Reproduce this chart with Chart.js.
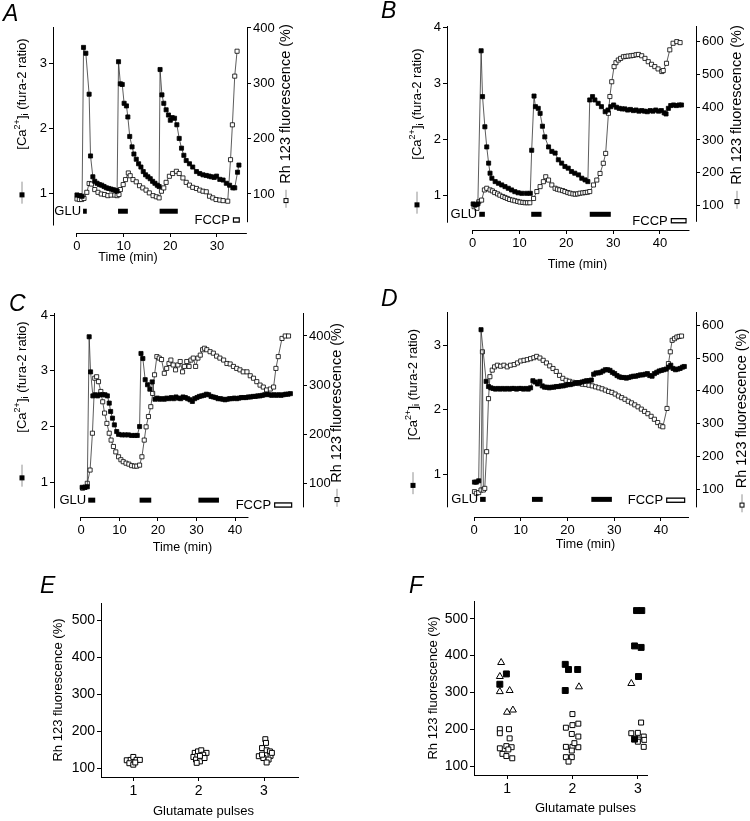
<!DOCTYPE html>
<html>
<head>
<meta charset="utf-8">
<script src="https://cdn.jsdelivr.net/npm/chart.js@4.4.1/dist/chart.umd.min.js"></script>
<style>
  body { margin: 0; background: #fff; }
  #fig { position: relative; width: 750px; height: 821px; overflow: hidden; font-family: "Liberation Sans", Arial, sans-serif; }
  canvas { position: absolute; }
  .letter { position: absolute; font-style: italic; font-size: 23px; line-height: 23px; color: #000; }
</style>
</head>
<body>
<div id="fig">
  <canvas id="cA" width="375" height="270" style="left:0;top:0"></canvas>
  <canvas id="cB" width="375" height="270" style="left:375px;top:0"></canvas>
  <canvas id="cC" width="375" height="280" style="left:0;top:280px"></canvas>
  <canvas id="cD" width="375" height="280" style="left:375px;top:280px"></canvas>
  <canvas id="cE" width="375" height="261" style="left:0;top:560px"></canvas>
  <canvas id="cF" width="375" height="261" style="left:375px;top:560px"></canvas>
  <div class="letter" style="left:3px;top:2px">A</div>
  <div class="letter" style="left:381px;top:-1px">B</div>
  <div class="letter" style="left:9px;top:292px">C</div>
  <div class="letter" style="left:381px;top:287px">D</div>
  <div class="letter" style="left:40px;top:574px">E</div>
  <div class="letter" style="left:409px;top:574px">F</div>
</div>
<script>
// ---- data: [time (min), value] ----
// panel A
const aCa = [[0,0.97],[0.6,0.96],[1.1,0.95],[1.4,3.24],[1.9,3.15],[2.6,2.52],[2.9,1.57],[3.4,1.25],[3.8,1.18],[4.3,1.15],[4.8,1.13],[5.3,1.12],[5.8,1.1],[6.3,1.08],[6.8,1.07],[7.3,1.06],[7.8,1.05],[8.3,1.04],[8.6,1.03],[8.9,3.02],[9.3,2.68],[9.7,2.67],[10.1,2.38],[10.6,2.34],[10.9,2.17],[11.3,1.87],[11.8,1.71],[12.2,1.6],[12.7,1.52],[13.2,1.45],[13.7,1.4],[14.2,1.33],[14.7,1.28],[15.2,1.25],[15.7,1.22],[16.2,1.18],[16.7,1.15],[17.2,1.12],[17.6,1.1],[17.8,2.9],[18.2,2.51],[18.6,2.38],[19.1,2.28],[19.6,2.2],[20.0,2.12],[20.4,2.16],[20.9,2.15],[21.4,2.05],[21.9,1.84],[22.4,1.69],[22.9,1.58],[23.4,1.5],[24.1,1.45],[24.8,1.4],[25.6,1.33],[26.3,1.3],[27.0,1.28],[27.7,1.27],[28.3,1.26],[28.8,1.25],[29.4,1.24],[29.9,1.26],[30.6,1.21],[31.3,1.2],[32.0,1.15],[32.7,1.12],[33.4,1.08],[33.8,1.08],[34.4,1.32],[34.7,1.43]];
const aRh = [[0,91],[0.5,90],[1.0,90],[1.5,92],[2.1,103],[2.6,119],[3.1,118],[3.8,108],[4.5,103],[5.2,100],[5.9,99],[6.6,97],[7.3,98],[8.1,98],[8.6,97],[9.0,99],[9.3,108],[9.9,117],[10.4,126],[11.0,138],[11.4,133],[12.0,126],[12.7,122],[13.4,115],[14.1,111],[14.8,107],[15.5,102],[16.3,97],[17.0,95],[17.6,93],[18.1,105],[18.6,111],[19.1,121],[19.8,132],[20.5,137],[21.3,141],[21.9,137],[22.7,129],[23.4,121],[24.1,116],[24.8,112],[25.6,110],[26.3,107],[27.0,105],[27.7,104],[28.4,96],[29.1,93],[29.8,90],[30.6,89],[31.3,88],[32.3,87],[32.9,162],[33.3,225],[33.8,313],[34.3,358]];
const aGlu = [[1.3,2.1],[8.8,10.9],[17.7,21.6]];
const aGluY = 0.72;
const aFccp = [33.4,34.9];
const aFccpY = 0.585;
const aCaTicks = [1,2,3];
const aRhTicks = [100,200,300,400];
const aTimeTicks = [0,10,20,30];

// panel B
const bCa = [[0.1,0.84],[0.5,0.82],[1.1,0.84],[1.8,3.58],[2.1,2.76],[2.6,2.22],[3.0,1.86],[3.4,1.57],[3.7,1.39],[4.1,1.3],[4.8,1.24],[5.5,1.21],[6.2,1.18],[6.9,1.15],[7.6,1.12],[8.3,1.09],[9.0,1.06],[9.7,1.04],[10.5,1.03],[11.5,1.03],[12.3,1.03],[12.6,1.8],[13.1,2.77],[13.4,2.58],[14.0,2.55],[14.4,2.46],[14.9,2.23],[15.4,2.04],[16.2,1.86],[16.9,1.78],[17.6,1.75],[18.3,1.63],[19.0,1.57],[19.7,1.51],[20.4,1.48],[21.1,1.42],[21.8,1.39],[22.6,1.36],[23.3,1.3],[24.0,1.27],[24.6,1.24],[25.0,2.7],[25.6,2.76],[26.1,2.7],[26.8,2.64],[27.5,2.58],[28.3,2.49],[28.9,2.52],[29.5,2.58],[30.1,2.61],[30.7,2.57],[31.3,2.55],[31.9,2.54],[32.5,2.54],[33.1,2.52],[33.7,2.53],[34.3,2.51],[34.9,2.52],[35.5,2.5],[36.1,2.51],[36.7,2.5],[37.3,2.49],[37.9,2.51],[38.5,2.5],[39.1,2.52],[39.7,2.5],[40.3,2.51],[40.9,2.47],[41.3,2.45],[41.8,2.55],[42.3,2.6],[42.9,2.61],[43.5,2.6],[44.1,2.61],[44.6,2.61]];
const bRh = [[0.3,97],[0.9,92],[1.3,112],[1.9,117],[2.5,148],[3.0,153],[3.7,148],[4.2,145],[4.7,140],[5.3,136],[5.8,132],[6.4,128],[6.9,125],[7.4,122],[7.9,119],[8.5,117],[9.0,115],[9.6,113],[10.1,111],[10.7,110],[11.2,109],[11.7,109],[12.2,109],[13.0,122],[13.7,143],[14.4,158],[15.1,173],[15.6,188],[16.2,178],[16.9,163],[17.6,153],[18.1,150],[18.6,148],[19.2,146],[19.7,143],[20.3,140],[20.8,138],[21.4,136],[21.9,135],[22.4,136],[22.9,138],[23.5,139],[24.0,140],[24.5,141],[25.0,143],[25.8,163],[26.5,178],[27.2,198],[27.9,229],[28.4,259],[29.0,381],[29.3,432],[29.7,477],[30.2,523],[30.6,535],[31.1,543],[31.6,548],[32.2,553],[32.7,554],[33.2,555],[33.8,556],[34.3,557],[34.9,559],[35.4,560],[36.1,556],[36.8,548],[37.5,538],[38.2,530],[38.9,523],[39.6,516],[40.4,508],[40.7,511],[41.4,533],[42.1,574],[42.8,594],[43.6,599],[44.3,596]];
const bGlu = [[1.4,2.6],[12.5,14.7],[25.0,29.5]];
const bGluY = 0.655;
const bFccp = [42.3,45.7];
const bFccpY = 0.54;
const bCaTicks = [1,2,3,4];
const bRhTicks = [100,200,300,400,500,600];
const bTimeTicks = [0,10,20,30,40];

// panel C
const cCa = [[0.1,0.91],[0.7,0.91],[1.2,0.92],[1.6,3.61],[1.9,2.98],[2.4,2.55],[2.9,2.57],[3.4,2.55],[3.9,2.57],[4.5,2.57],[5.0,2.57],[5.5,2.55],[5.9,2.42],[6.2,2.27],[6.6,2.15],[7.0,2.03],[7.5,1.91],[7.9,1.86],[8.6,1.85],[9.3,1.85],[10.0,1.85],[10.7,1.84],[11.4,1.84],[11.9,1.84],[12.4,2.0],[12.7,3.31],[13.1,3.22],[13.6,2.84],[14.1,2.75],[14.6,2.67],[15.1,2.8],[15.7,2.49],[16.2,2.51],[16.7,2.49],[17.2,2.5],[17.7,2.49],[18.2,2.51],[18.7,2.5],[19.2,2.52],[19.7,2.5],[20.2,2.53],[20.7,2.51],[21.2,2.5],[21.7,2.53],[22.2,2.52],[22.7,2.5],[23.2,2.48],[23.7,2.45],[24.2,2.5],[24.7,2.52],[25.2,2.54],[25.7,2.55],[26.2,2.56],[26.7,2.58],[27.2,2.57],[27.7,2.54],[28.2,2.53],[28.7,2.52],[29.2,2.5],[29.7,2.5],[30.2,2.49],[30.7,2.48],[31.2,2.49],[31.7,2.5],[32.2,2.5],[32.7,2.51],[33.2,2.5],[33.7,2.51],[34.2,2.52],[34.7,2.52],[35.2,2.52],[35.7,2.53],[36.2,2.53],[36.7,2.54],[37.2,2.54],[37.7,2.55],[38.2,2.55],[38.7,2.56],[39.2,2.57],[39.7,2.58],[40.2,2.57],[40.7,2.56],[41.2,2.57],[41.7,2.56],[42.2,2.57],[42.7,2.56],[43.2,2.57],[43.7,2.58],[44.2,2.58],[44.7,2.59]];
const cRh = [[0.2,90],[0.7,92],[1.2,100],[1.8,127],[2.3,202],[2.8,314],[3.2,317],[3.6,307],[4.1,287],[4.5,266],[4.9,243],[5.4,222],[5.9,202],[6.3,188],[6.8,175],[7.3,164],[7.9,154],[8.4,148],[8.9,144],[9.5,141],[10.1,139],[10.7,136],[11.3,135],[11.8,135],[12.4,137],[12.9,154],[13.4,188],[13.8,215],[14.3,236],[14.8,256],[15.2,283],[15.6,321],[16.1,358],[16.6,355],[17.1,352],[17.7,324],[18.2,334],[18.7,344],[19.1,351],[19.6,341],[20.1,331],[20.6,341],[21.1,348],[21.6,327],[22.0,338],[22.5,348],[23.0,338],[23.4,351],[23.9,355],[24.4,338],[24.9,355],[25.4,361],[25.9,372],[26.3,375],[26.8,372],[27.5,368],[28.2,365],[28.9,359],[29.6,355],[30.4,351],[31.1,344],[31.8,343],[32.5,338],[33.2,334],[33.9,331],[34.6,327],[35.4,327],[36.1,319],[36.8,314],[37.5,307],[38.2,300],[38.9,296],[39.6,290],[40.4,292],[41.1,296],[41.6,334],[42.1,358],[42.9,395],[43.6,400],[44.3,400]];
const cGlu = [[1.4,2.9],[12.4,14.9],[25.0,29.4]];
const cGluY = 0.68;
const cFccp = [41.2,45.1];
const cFccpY = 0.593;
const cCaTicks = [1,2,3,4];
const cRhTicks = [100,200,300,400];
const cTimeTicks = [0,10,20,30,40];

// panel D
const dCa = [[0.1,0.88],[0.5,0.88],[1.0,0.9],[1.5,3.24],[2.6,2.44],[3.1,2.36],[3.6,2.34],[4.1,2.33],[4.6,2.32],[5.1,2.33],[5.6,2.32],[6.1,2.33],[6.6,2.32],[7.1,2.33],[7.6,2.32],[8.1,2.33],[8.6,2.33],[9.1,2.32],[9.6,2.33],[10.1,2.33],[10.6,2.32],[11.1,2.33],[11.6,2.32],[12.1,2.34],[12.6,2.45],[13.1,2.43],[13.6,2.4],[14.1,2.44],[14.6,2.37],[15.1,2.35],[15.6,2.35],[16.1,2.34],[16.6,2.35],[17.1,2.35],[17.6,2.36],[18.1,2.36],[18.6,2.37],[19.1,2.37],[19.6,2.38],[20.1,2.39],[20.6,2.39],[21.1,2.4],[21.6,2.41],[22.1,2.42],[22.6,2.42],[23.1,2.43],[23.6,2.44],[24.1,2.45],[24.6,2.45],[25.1,2.46],[25.6,2.55],[26.1,2.57],[26.6,2.57],[27.1,2.58],[27.6,2.6],[28.1,2.62],[28.6,2.62],[29.1,2.61],[29.6,2.58],[30.1,2.56],[30.6,2.53],[31.1,2.51],[31.6,2.5],[32.1,2.5],[32.6,2.49],[33.1,2.5],[33.6,2.51],[34.1,2.52],[34.6,2.52],[35.1,2.53],[35.6,2.54],[36.1,2.54],[36.6,2.55],[37.1,2.56],[37.6,2.53],[38.1,2.52],[38.6,2.56],[39.1,2.58],[39.6,2.6],[40.1,2.61],[40.6,2.62],[41.1,2.63],[41.6,2.66],[42.1,2.69],[42.6,2.64],[43.1,2.62],[43.6,2.63],[44.1,2.64],[44.6,2.66],[45.0,2.67]];
const dRh = [[0.1,92],[0.5,87],[1.0,89],[1.5,97],[1.8,519],[2.0,97],[2.3,102],[2.7,214],[3.1,376],[3.4,443],[3.9,463],[4.4,473],[5.0,478],[5.7,475],[6.4,478],[7.1,473],[7.8,478],[8.6,480],[9.3,485],[10.0,491],[10.7,493],[11.4,495],[12.1,498],[12.8,501],[13.4,505],[14.1,500],[14.8,493],[15.5,485],[16.2,476],[16.9,468],[17.6,459],[18.3,447],[19.0,438],[19.7,432],[20.4,429],[21.1,426],[21.8,424],[22.5,422],[23.2,420],[23.9,419],[24.6,417],[25.3,415],[26.0,412],[26.7,409],[27.4,406],[28.1,402],[28.8,398],[29.5,395],[30.2,390],[30.9,384],[31.6,379],[32.3,374],[33.0,368],[33.7,363],[34.4,357],[35.1,351],[35.8,344],[36.5,337],[37.2,330],[37.9,322],[38.6,313],[39.3,303],[39.9,293],[40.4,290],[41.3,346],[41.6,483],[42.0,519],[42.4,554],[42.9,559],[43.4,564],[43.9,566],[44.4,567]];
const dGlu = [[1.3,2.5],[12.4,14.7],[25.1,29.5]];
const dGluY = 0.613;
const dFccp = [41.1,45.2];
const dFccpY = 0.6;
const dCaTicks = [1,2,3];
const dRhTicks = [100,200,300,400,500,600];
const dTimeTicks = [0,10,20,30,40];

// panel E: [pulse, Rh 123 %]
const eOpen = [[0.9,121],[0.96,122],[1.0,130],[1.05,122],[1.1,122],[0.94,113],[1.0,109],[1.03,115],
  [1.94,141],[1.99,145],[2.04,148],[2.12,141],[1.92,130],[1.98,132],[2.07,136],[1.96,123],[2.02,118],[1.97,114],[2.09,127],[2.02,133],
  [3.02,178],[3.03,168],[2.97,154],[3.04,148],[3.09,145],[2.92,132],[2.99,127],[3.1,133],[3.07,123],[3.04,115],[2.97,136],[3.12,141]];

// panel F
const fOpen = [[0.89,200],[0.89,189],[1.03,200],[1.04,175],[0.89,148],[0.99,154],[1.07,151],[1.02,145],[0.93,133],[0.99,127],[1.08,121],
  [2.0,241],[1.9,204],[2.0,211],[2.09,215],[1.99,187],[2.09,180],[1.9,152],[2.0,152],[2.09,151],[1.99,142],[2.03,162],[1.9,124],[1.99,124],[1.94,112],
  [3.05,218],[2.9,189],[3.0,190],[3.09,180],[3.01,172],[3.1,171],[3.0,166],[3.09,152]];
const fFilled = [[0.99,350],[0.89,322],[1.89,376],[1.94,362],[2.08,362],[1.89,305],[2.98,522],[3.06,522],[2.95,426],[3.05,422],[3.01,343],[2.95,173]];
const fTri = [[0.91,381],[0.89,343],[0.89,302],[1.04,305],[1.0,246],[1.09,252],[2.1,315],[2.9,324]];
const pulseTicks = [1,2,3];
const pctTicks = [100,200,300,400,500];

const caTitle = [{ t: '[Ca' }, { t: '2+', sup: true }, { t: ']' }, { t: 'i', sub: true }, { t: ' (fura-2 ratio)' }];
const rhTitle = [{ t: 'Rh 123 fluorescence (%)' }];

// ---- drawing ----
const FAM = '"Liberation Sans", Arial, sans-serif';
Chart.defaults.font.family = FAM;
Chart.defaults.color = '#000';

function vTitle(ctx, cx, cy, t) {
  const fonts = t.parts.map(p => ((p.sup || p.sub) ? t.size * 0.7 : t.size) + 'px ' + FAM);
  const widths = t.parts.map((p, i) => { ctx.font = fonts[i]; return ctx.measureText(p.t).width; });
  const textW = widths.reduce((s, w) => s + w, 0);
  const m = t.marker;
  const total = textW + (m ? m.len + t.gap : 0);
  ctx.save();
  ctx.translate(cx, cy);
  ctx.rotate(-Math.PI / 2);
  let x = -total / 2;
  if (m) {
    ctx.strokeStyle = '#777';
    ctx.lineWidth = 0.8;
    ctx.beginPath(); ctx.moveTo(x, 0); ctx.lineTo(x + m.len, 0); ctx.stroke();
    const c = x + m.len * 0.4;
    ctx.strokeStyle = '#000';
    ctx.fillStyle = m.filled ? '#000' : '#fff';
    ctx.fillRect(c - 2, -2, 4, 4);
    ctx.lineWidth = 1;
    ctx.strokeRect(c - 2, -2, 4, 4);
    x += m.len + t.gap;
  }
  ctx.fillStyle = '#000';
  ctx.textBaseline = 'middle';
  ctx.textAlign = 'left';
  t.parts.forEach((p, i) => {
    ctx.font = fonts[i];
    const dy = p.sup ? -t.size * 0.35 : (p.sub ? t.size * 0.3 : 0);
    ctx.fillText(p.t, x, dy);
    x += widths[i];
  });
  ctx.restore();
}

// extra axis lines, titles and GLU / FCCP labels
const extras = {
  id: 'extras',
  beforeDatasetsDraw(chart, args, o) {
    const ax = o.axes;
    if (!ax) return;
    const ctx = chart.ctx, a = chart.chartArea, s = chart.scales;
    const xl = Math.round(a.left) + 0.5, xr = Math.round(a.right) + 0.5, yb = Math.round(a.bottom) + 0.5;
    ctx.save();
    ctx.strokeStyle = '#000';
    ctx.lineWidth = 1;
    ctx.beginPath();
    ctx.moveTo(xl, s.yL.getPixelForValue(ax.yL)); ctx.lineTo(xl, a.top);
    ctx.moveTo(xr, s.yR.getPixelForValue(ax.yR)); ctx.lineTo(xr, a.top);
    ctx.moveTo(s.xa.getPixelForValue(ax.x0), yb); ctx.lineTo(s.xa.getPixelForValue(ax.x1), yb);
    ctx.stroke();
    ctx.restore();
  },
  afterDatasetsDraw(chart, args, o) {
    if (o.hollow == null) return;
    // make the FCCP bar an open box
    const p = chart.getDatasetMeta(o.hollow).data;
    const ctx = chart.ctx;
    ctx.save();
    ctx.fillStyle = '#fff';
    ctx.fillRect(p[0].x + 1.2, p[0].y - 1.4, p[1].x - p[0].x - 2.4, 2.8);
    ctx.restore();
  },
  afterDraw(chart, args, o) {
    const ctx = chart.ctx, a = chart.chartArea, s = chart.scales;
    const midY = (a.top + a.bottom) / 2;
    if (o.left) vTitle(ctx, a.left - o.left.off, midY + (o.left.dy || 0), o.left);
    if (o.right) vTitle(ctx, a.right + o.right.off, midY + (o.right.dy || 0), o.right);
    ctx.save();
    ctx.fillStyle = '#000';
    if (o.xTitle) {
      ctx.font = o.xTitle.size + 'px ' + FAM;
      ctx.textAlign = 'center';
      ctx.textBaseline = 'middle';
      ctx.fillText(o.xTitle.text, (a.left + a.right) / 2 + o.xTitle.dx, a.bottom + o.xTitle.dy);
    }
    (o.labels || []).forEach(l => {
      ctx.font = '13px ' + FAM;
      ctx.textAlign = 'right';
      ctx.textBaseline = 'middle';
      ctx.fillText(l.text, s.x.getPixelForValue(l.x) - l.gap, s.yL.getPixelForValue(l.y) + 0.5);
    });
    ctx.restore();
  }
};

function pts(arr) { return arr.map(p => ({ x: p[0], y: p[1] })); }

function traceSet(arr, axis, filled) {
  return {
    data: pts(arr), xAxisID: 'x', yAxisID: axis, showLine: true,
    borderColor: '#333', borderWidth: 0.8,
    pointStyle: 'rect', pointRadius: 2.9,
    pointBackgroundColor: filled ? '#000' : '#fff',
    pointBorderColor: '#000', pointBorderWidth: 0.8
  };
}

function barSet(range, level, width) {
  return {
    data: pts([[range[0], level], [range[1], level]]), xAxisID: 'x', yAxisID: 'yL', showLine: true,
    borderColor: '#000', borderWidth: width, borderCapStyle: 'butt', pointRadius: 0
  };
}

function axisScale(pos, range, ticks, size, fontSize, border) {
  const horizontal = pos === 'bottom';
  return {
    type: 'linear', position: pos, min: range[0], max: range[1],
    afterBuildTicks: sc => { sc.ticks = ticks.map(v => ({ value: v })); },
    afterFit: sc => { if (horizontal) sc.height = size; else sc.width = size; },
    grid: { drawOnChartArea: false, drawTicks: true, tickLength: 4, color: '#000', lineWidth: 1 },
    border: { display: border, color: '#000', width: 1 },
    ticks: { font: { size: fontSize }, color: '#000', padding: 2, maxRotation: 0, autoSkip: false }
  };
}

function tracePanel(id, d, L) {
  const datasets = [
    traceSet(d.ca, 'yL', true),
    traceSet(d.rh, 'yR', false),
    barSet(d.fccp, d.fccpY, 5.5)
  ].concat(d.glu.map(g => barSet(g, d.gluY, 5)));
  new Chart(document.getElementById(id), {
    type: 'scatter',
    data: { datasets },
    options: {
      responsive: false, animation: false, events: [],
      layout: { padding: L.pad },
      plugins: {
        legend: { display: false }, tooltip: { enabled: false },
        extras: {
          axes: { yL: L.from[0], yR: L.from[1], x0: 0, x1: L.xEnd },
          hollow: 2,
          left: { parts: caTitle, size: 13, marker: { len: 22, filled: true }, gap: 32, off: L.offL, dy: L.dyL },
          right: { parts: rhTitle, size: 14.5, marker: { len: 18, filled: false }, gap: 6, off: L.offR, dy: L.dyR },
          xTitle: { text: 'Time (min)', size: 12.5, dx: L.xt[0], dy: L.xt[1] },
          labels: [{ text: 'GLU', x: d.glu[0][0], y: d.gluY, gap: 2 }, { text: 'FCCP', x: d.fccp[0], y: d.fccpY, gap: 3 }]
        }
      },
      scales: {
        x: { type: 'linear', display: false, min: L.x[0], max: L.x[1] },
        xa: axisScale('bottom', L.xa, d.timeTicks, 22, 13, false),
        yL: axisScale('left', L.yL, d.caTicks, 30, 13, false),
        yR: axisScale('right', L.yR, d.rhTicks, 30, 13, false)
      }
    },
    plugins: [extras]
  });
}

function pulsePanel(id, datasets, L) {
  new Chart(document.getElementById(id), {
    type: 'scatter',
    data: { datasets },
    options: {
      responsive: false, animation: false, events: [],
      layout: { padding: L.pad },
      plugins: {
        legend: { display: false }, tooltip: { enabled: false },
        extras: {
          left: { parts: rhTitle, size: 13, off: L.off, dy: 0 },
          xTitle: { text: 'Glutamate pulses', size: 13, dx: L.xt[0], dy: L.xt[1] }
        }
      },
      scales: {
        x: axisScale('bottom', L.x, pulseTicks, 20, 14, true),
        y: axisScale('left', L.y, pctTicks, 36, 14, true)
      }
    },
    plugins: [extras]
  });
}

function markSet(arr, style, radius, filled) {
  return {
    data: pts(arr), pointStyle: style, pointRadius: radius,
    pointBackgroundColor: filled ? '#000' : '#fff',
    pointBorderColor: '#000', pointBorderWidth: 1
  };
}

tracePanel('cA', { ca: aCa, rh: aRh, glu: aGlu, gluY: aGluY, fccp: aFccp, fccpY: aFccpY, caTicks: aCaTicks, rhTicks: aRhTicks, timeTicks: aTimeTicks },
  { pad: { left: 23, right: 98, top: 27, bottom: 15 }, x: [-5.14, 36.43], xa: [-5.14, 36.43], yL: [0.385, 3.554], yR: [29.5, 401.8],
    from: [0.5, 49], xEnd: 36.4, offL: 31, dyL: -9, offR: 39, dyR: -14, xt: [-22, 25] });

tracePanel('cB', { ca: bCa, rh: bRh, glu: bGlu, gluY: bGluY, fccp: bFccp, fccpY: bFccpY, caTicks: bCaTicks, rhTicks: bRhTicks, timeTicks: bTimeTicks },
  { pad: { left: 42, right: 24, top: 26, bottom: 18 }, x: [-5.49, 47.7], xa: [-5.49, 47.7], yL: [0.374, 4.023], yR: [26.1, 646.5],
    from: [0.504, 51], xEnd: 46.3, offL: 30, dyL: 3, offR: 41, dyR: -11, xt: [6, 35] });

tracePanel('cC', { ca: cCa, rh: cRh, glu: cGlu, gluY: cGluY, fccp: cFccp, fccpY: cFccpY, caTicks: cCaTicks, rhTicks: cRhTicks, timeTicks: cTimeTicks },
  { pad: { left: 24, right: 42, top: 33, bottom: 21 }, x: [-5.93, 47.4], xa: [-7.01, 57.66], yL: [0.378, 4.036], yR: [31.4, 446.8],
    from: [0.534, 51], xEnd: 43.5, offL: 32, dyL: -11, offR: 34, dyR: 0, xt: [4, 31] });

tracePanel('cD', { ca: dCa, rh: dRh, glu: dGlu, gluY: dGluY, fccp: dFccp, fccpY: dFccpY, caTicks: dCaTicks, rhTicks: dRhTicks, timeTicks: dTimeTicks },
  { pad: { left: 42, right: 24, top: 32, bottom: 21 }, x: [-5.78, 47.5], xa: [-5.78, 47.5], yL: [0.34, 3.514], yR: [14.6, 640.5],
    from: [0.49, 44], xEnd: 46, offL: 34, dyL: -3, offR: 46, dyR: 6, xt: [14, 28] });

pulsePanel('cE', [markSet(eOpen, 'rect', 3.5, false)],
  { pad: { left: 65, right: 77, top: 43, bottom: 24 }, x: [0.506, 3.52], y: [75.7, 546.7], off: 43, xt: [4, 34] });

pulsePanel('cF', [markSet(fFilled, 'rect', 4.2, true), markSet(fTri, 'triangle', 4, false), markSet(fOpen, 'rect', 3.5, false)],
  { pad: { left: 63, right: 103, top: 41, bottom: 26 }, x: [0.495, 3.14], y: [75.6, 548], off: 41, xt: [25, 33] });
</script>
</body>
</html>
